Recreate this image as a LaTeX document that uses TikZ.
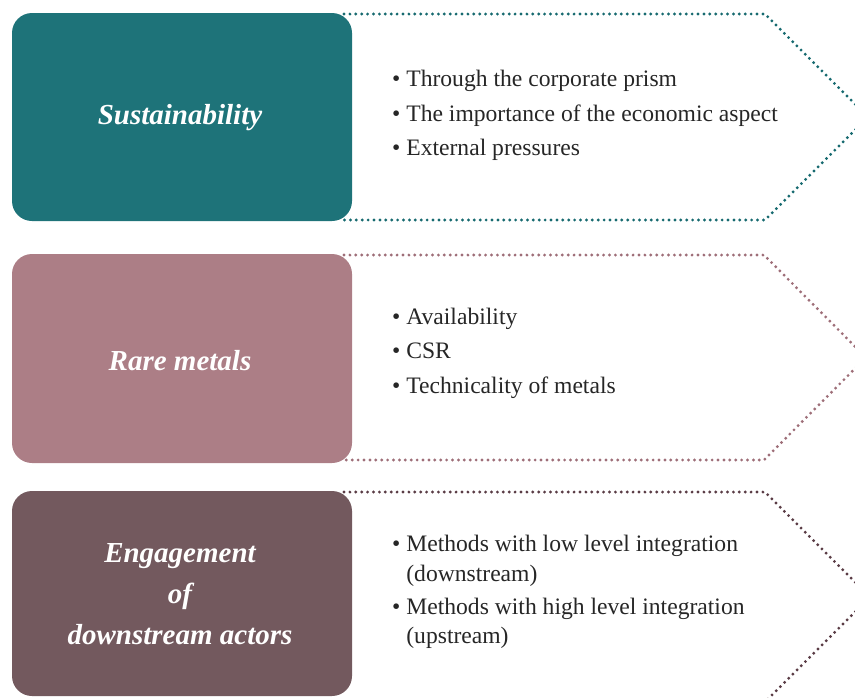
\documentclass[tikz,border=0pt]{standalone}
\usepackage{fontspec}
\setmainfont{Liberation Serif}
\definecolor{cteal}{HTML}{1E7379}
\definecolor{cpink}{HTML}{AC7E86}
\definecolor{cbrown}{HTML}{73595E}
\definecolor{dteal}{HTML}{176A70}
\definecolor{dpink}{HTML}{9E6E78}
\definecolor{dbrown}{HTML}{5A3C45}
\tikzset{
  titlebox/.style={rounded corners=20pt, draw=none},
  dotline/.style={line width=3.2pt, line cap=round, dash pattern=on 0pt off 5.9pt},
  bul/.style={anchor=base west, inner sep=0pt, font=\fontsize{23.6}{26}\selectfont, text=black!85},
  ttl/.style={text=white, font=\fontsize{29}{41}\selectfont\bfseries\itshape, align=center, inner sep=0pt}
}
\begin{document}
\begin{tikzpicture}[x=1pt,y=-1pt]
\useasboundingbox (0,0) rectangle (855,697);
% arrows
\draw[dotline, dteal] (344,14) -- (765,14) -- (868,117) -- (765,220) -- (344,220);
\draw[dotline, dpink] (344,255) -- (764,255) -- (866,357.5) -- (764,460) -- (344,460);
\draw[dotline, dbrown] (344,492) -- (765,492) -- (870,597) -- (765,702) -- (344,702);
% boxes
\fill[titlebox, cteal] (12,13) rectangle (352,221);
\fill[titlebox, cpink] (12,254) rectangle (352,463);
\fill[titlebox, cbrown] (12,491) rectangle (352,696);
\node[ttl] (t1) at (180,118) {Sustainability};
\node[ttl] (t2) at (180,361) {Rare metals};
\node[ttl] (t3) at (180,594) {Engagement\\of\\downstream actors};
% bullets
\node[bul] (a1) at (392,86) {\textbullet\ Through the corporate prism};
\node[bul] (a2) at (392,121) {\textbullet\ The importance of the economic aspect};
\node[bul] (a3) at (392,155) {\textbullet\ External pressures};
\node[bul] (b1) at (392,324) {\textbullet\ Availability};
\node[bul] (b2) at (392,358) {\textbullet\ CSR};
\node[bul] (b3) at (392,393) {\textbullet\ Technicality of metals};
\node[bul] (c1) at (392,551) {\textbullet\ Methods with low level integration};
\node[bul] (c2) at (392,581) {\phantom{\textbullet\ }(downstream)};
\node[bul] (c3) at (392,614) {\textbullet\ Methods with high level integration};
\node[bul] (c4) at (392,643) {\phantom{\textbullet\ }(upstream)};
\end{tikzpicture}
\end{document}
